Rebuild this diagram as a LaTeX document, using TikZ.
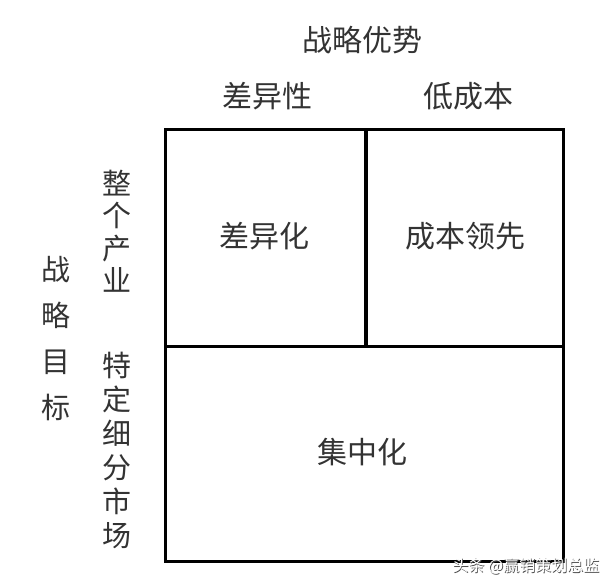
\documentclass[tikz,border=0pt]{standalone}
\usepackage{fontspec}
\setmainfont{Noto Sans CJK SC}
\begin{document}
\begin{tikzpicture}[x=1pt,y=-1pt,
  box/.style={draw=black,line width=3pt},
  lbl/.style={text=black!80,font=\fontsize{30}{30}\selectfont,inner sep=0pt},
  vlbl/.style={lbl,align=center},
  wm/.style={font=\fontsize{16}{16}\selectfont,inner sep=0pt}]
\useasboundingbox (0,0) rectangle (607,587);
\fill[white] (0,0) rectangle (607,587);
\coordinate (tl) at (165,129);
\coordinate (tm) at (366,129);
\coordinate (tr) at (563,129);
\coordinate (ml) at (165,346);
\coordinate (mm) at (366,346);
\coordinate (mr) at (563,346);
\coordinate (bl) at (165,561);
\coordinate (br) at (563,561);
\draw[box] (tl) rectangle (br);
\draw[box] (ml) -- (mr);
\draw[box,line width=3.8pt] (tm) -- (mm);
\node[lbl] (cellA) at (264,236) {差异化};
\node[lbl] (cellB) at (465,236) {成本领先};
\node[lbl] (cellC) at (362,452) {集中化};
\node[lbl] (adv) at (362,40) {战略优势};
\node[lbl] (diff) at (267,96) {差异性};
\node[lbl] (low) at (468,96) {低成本};
\node[vlbl,font=\fontsize{29}{32.5}\selectfont] (whole) at (117,231) {整\\个\\产\\业};
\node[vlbl,font=\fontsize{29}{34}\selectfont] (seg) at (117,450) {特\\定\\细\\分\\市\\场};
\node[vlbl,font=\fontsize{29}{46}\selectfont] (goal) at (56,339) {战\\略\\目\\标};
\node[wm,text=black!70] (wms) at (526.8,566.8) {头条 @赢销策划总监};
\node[wm,text=white] (wmt) at (526,566) {头条 @赢销策划总监};
\end{tikzpicture}
\end{document}
